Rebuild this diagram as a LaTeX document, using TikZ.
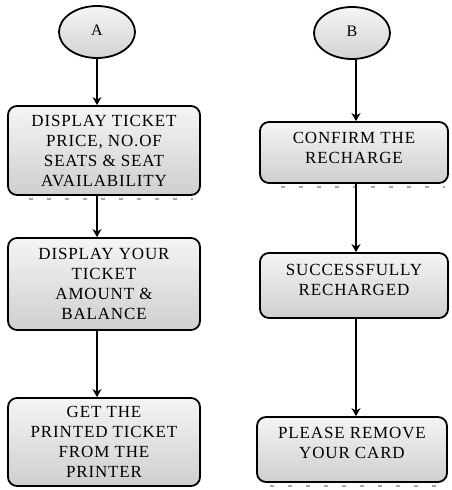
\documentclass[tikz,border=0pt]{standalone}
\usepackage{fontspec}
\setmainfont{Liberation Serif}[LetterSpace=5]
\usetikzlibrary{shapes.geometric,arrows.meta}
\begin{document}
\begin{tikzpicture}[x=1pt,y=-1pt,
  box/.style={draw=black,line width=1.8pt,rounded corners=9pt,top color=gray!8,bottom color=gray!38,
    align=center,font=\fontsize{17}{20}\selectfont,inner sep=0pt},
  term/.style={ellipse,draw=black,line width=1.8pt,top color=gray!8,bottom color=gray!35,
    minimum width=76pt,minimum height=52pt,inner sep=0pt,font=\fontsize{16}{18}\selectfont},
  arr/.style={line width=1.8pt,-{Stealth[length=8pt,width=9pt]}},
  shad/.style={gray!70,line width=1.5pt,dash pattern=on 4pt off 14pt}]
\useasboundingbox (0,0) rectangle (451,490);
% left column
\node[term] (A) at (97,32) {\raisebox{4pt}{A}};
\node[box,minimum width=192pt,minimum height=89pt] (b1) at (104,150.5)
  {DISPLAY TICKET\\PRICE, NO.OF\\SEATS \& SEAT\\AVAILABILITY};
\node[box,minimum width=192pt,minimum height=92pt] (b2) at (104,284)
  {DISPLAY YOUR\\TICKET\\AMOUNT \&\\BALANCE};
\node[box,minimum width=192pt,minimum height=88pt] (b3) at (104,442)
  {GET THE\\PRINTED TICKET\\FROM THE\\PRINTER};
% right column
\node[term] (B) at (352,33) {\raisebox{4pt}{B}};
\node[box,minimum width=188pt,minimum height=61pt] (c1) at (354,152.5)
  {CONFIRM THE\\RECHARGE\rule[-10pt]{0pt}{10pt}};
\node[box,minimum width=188pt,minimum height=65pt] (c2) at (354,285.5)
  {SUCCESSFULLY\\RECHARGED\rule[-12pt]{0pt}{12pt}};
\node[box,minimum width=190pt,minimum height=65pt] (c3) at (352,449.5)
  {PLEASE REMOVE\\YOUR CARD\rule[-14pt]{0pt}{14pt}};
% shadow dashes
\draw[shad] ([xshift=22pt,yshift=-3pt]b1.south west) -- ([xshift=-8pt,yshift=-3pt]b1.south east);
\draw[shad] ([xshift=22pt,yshift=-3pt]c1.south west) -- ([xshift=-4pt,yshift=-3pt]c1.south east);
\draw[shad] ([xshift=14pt,yshift=-3pt]c3.south west) -- ([xshift=-4pt,yshift=-3pt]c3.south east);
% arrows
\draw[arr] (A.south) -- (A.south |- b1.north);
\draw[arr] (A |- b1.south) -- (A |- b2.north);
\draw[arr] (A |- b2.south) -- (A |- b3.north);
\draw[arr] ([xshift=4pt]B.south) -- ([xshift=4pt]B.south |- c1.north);
\draw[arr] ([xshift=4pt]B.south |- c1.south) -- ([xshift=4pt]B.south |- c2.north);
\draw[arr] ([xshift=4pt]B.south |- c2.south) -- ([xshift=4pt]B.south |- c3.north);
\end{tikzpicture}
\end{document}
